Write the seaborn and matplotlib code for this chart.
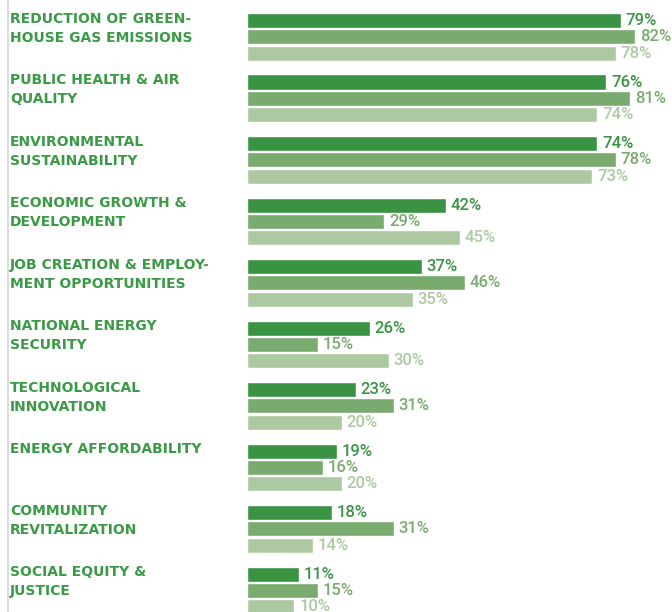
import matplotlib
matplotlib.use("Agg")
import matplotlib.pyplot as plt
import matplotlib.transforms as mtransforms
from matplotlib.lines import Line2D
import pandas as pd
import seaborn as sns

# Benefit categories (two-line labels) and the share of respondents per series
categories = [
    "REDUCTION OF GREEN-\nHOUSE GAS EMISSIONS",
    "PUBLIC HEALTH & AIR\nQUALITY",
    "ENVIRONMENTAL\nSUSTAINABILITY",
    "ECONOMIC GROWTH &\nDEVELOPMENT",
    "JOB CREATION & EMPLOY-\nMENT OPPORTUNITIES",
    "NATIONAL ENERGY\nSECURITY",
    "TECHNOLOGICAL\nINNOVATION",
    "ENERGY AFFORDABILITY",
    "COMMUNITY\nREVITALIZATION",
    "SOCIAL EQUITY &\nJUSTICE",
]
series_names = ["Series 1", "Series 2", "Series 3"]
series_1 = [79, 76, 74, 42, 37, 26, 23, 19, 18, 11]
series_2 = [82, 81, 78, 29, 46, 15, 31, 16, 31, 15]
series_3 = [78, 74, 73, 45, 35, 30, 20, 20, 14, 10]

colors = ["#3a9343", "#79ab6e", "#adc9a1"]
label_green = "#3a9a46"

df = pd.DataFrame({
    "category": categories * 3,
    "series": [n for n in series_names for _ in categories],
    "value": series_1 + series_2 + series_3,
})

sns.set_theme(style="white")
plt.rcParams["font.family"] = ["Roboto", "DejaVu Sans"]

W, H, DPI = 672, 612, 100
fig = plt.figure(figsize=(W / DPI, H / DPI), dpi=DPI)
ax = fig.add_axes([247 / W, 0, (W - 247) / W, 1])

sns.barplot(
    data=df, x="value", y="category", hue="series", orient="h",
    palette=colors, width=0.8, gap=0.085, saturation=1,
    legend=False, ax=ax,
)

ax.set_xlim(0, (W - 247) / 4.73)
ax.set_ylim(9.351, -0.6)
ax.set_axis_off()

for cont, col in zip(ax.containers, colors):
    ax.bar_label(cont, labels=[f"{int(v)}%" for v in cont.datavalues],
                 padding=3.5, color=col, fontsize=12, fontweight="medium")

# Category names on the left, aligned with the top bar of each group
trans = mtransforms.blended_transform_factory(fig.transFigure, ax.transData)
for i, name in enumerate(categories):
    ax.text(10 / W, i - 0.41, name, transform=trans, ha="left", va="top",
            fontsize=10, fontweight="bold", color=label_green,
            linespacing=1.45, family=["DejaVu Sans"])

# Thin rule along the left edge
fig.add_artist(Line2D([8 / W, 8 / W], [0, 1], transform=fig.transFigure,
                      color="#d6d6d6", linewidth=1.2))

fig.savefig("out.png", dpi=DPI)
